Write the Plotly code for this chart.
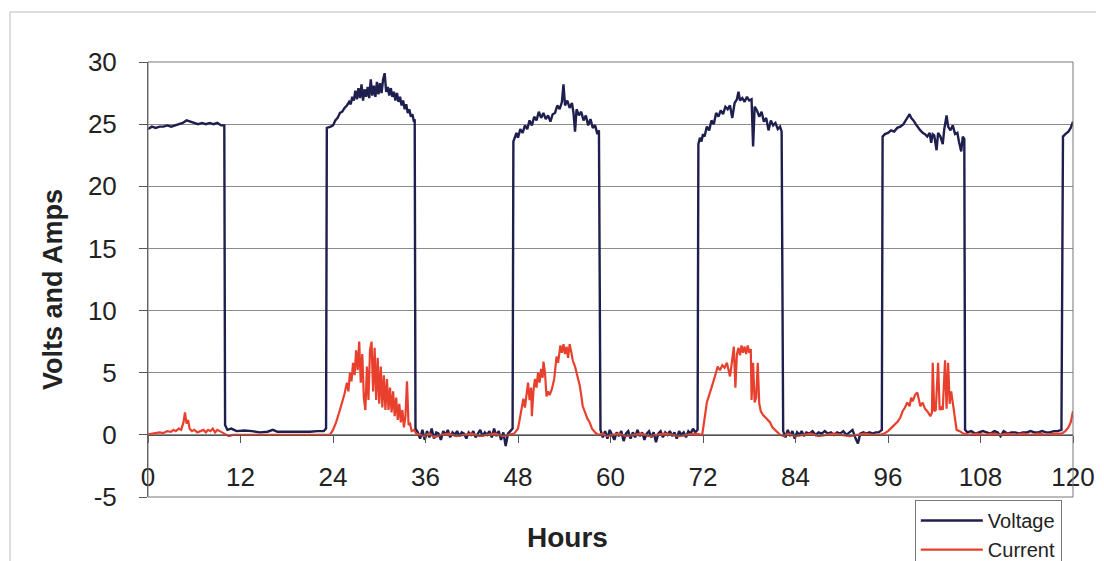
import plotly.graph_objects as go

# ---------------- data ----------------
volt_hours = [
    0, 0.5, 1, 1.5, 2, 2.5, 3, 3.5, 4, 4.5, 5, 5.5, 6, 6.5, 7, 7.5, 8, 8.5, 9, 9.5, 9.9,
    10.0, 10.3, 10.8, 11.5, 12.5, 13.5, 14.5, 15.5, 16.2, 16.8, 18, 19, 20, 21, 22, 22.8, 23.1,
    23.2, 23.7, 24.0, 24.3, 24.6, 24.9, 25.2, 25.5, 25.8, 26.1, 26.3, 26.5, 26.7, 26.9, 27.1, 27.3,
    27.5, 27.7, 27.9, 28.1, 28.3, 28.5, 28.7, 28.9, 29.1, 29.3, 29.5, 29.7, 29.9, 30.1, 30.3, 30.5,
    30.7, 30.9, 31.1, 31.3, 31.5, 31.7, 31.9, 32.1, 32.3, 32.5, 32.7, 32.9, 33.1, 33.3, 33.5, 33.7,
    33.9, 34.1, 34.3, 34.5, 34.6,
    34.7, 35.0, 35.3, 35.6, 35.9, 36.2, 36.5, 36.8, 37.1, 37.4, 37.7, 38.0, 38.3, 38.6, 38.9, 39.2,
    39.5, 39.8, 40.1, 40.4, 40.7, 41.0, 41.3, 41.6, 41.9, 42.2, 42.5, 42.8, 43.1, 43.4, 43.7, 44.0,
    44.3, 44.6, 44.9, 45.2, 45.5, 45.8, 46.1, 46.4, 46.7, 47.0, 47.3,
    47.4, 47.6, 47.8, 48.0, 48.3, 48.6, 48.9, 49.2, 49.5, 49.8, 50.1, 50.4, 50.7, 51.0, 51.3, 51.6,
    51.9, 52.2, 52.5, 52.8, 53.1, 53.4, 53.7, 53.9, 54.1, 54.4, 54.7, 55.0, 55.2, 55.4, 55.6, 55.9,
    56.2, 56.5, 56.8, 57.1, 57.4, 57.7, 58.0, 58.3, 58.5,
    58.7, 59.0, 59.3, 59.6, 59.9, 60.2, 60.5, 60.8, 61.1, 61.4, 61.7, 62.0, 62.3, 62.6, 62.9, 63.2,
    63.5, 63.8, 64.1, 64.4, 64.7, 65.0, 65.3, 65.6, 65.9, 66.2, 66.5, 66.8, 67.1, 67.4, 67.7, 68.0,
    68.3, 68.6, 68.9, 69.2, 69.5, 69.8, 70.1, 70.4, 70.7, 71.0, 71.3,
    71.4, 71.6, 71.8, 72.0, 72.2, 72.5, 72.8, 73.1, 73.4, 73.7, 74.0, 74.3, 74.6, 74.9, 75.2, 75.5,
    75.8, 76.1, 76.4, 76.6, 76.8, 77.1, 77.4, 77.7, 78.0, 78.3, 78.5, 78.7, 79.0, 79.3, 79.6, 79.9,
    80.2, 80.5, 80.8, 81.1, 81.4, 81.7, 82.0, 82.2,
    82.4, 82.7, 83.0, 83.3, 83.6, 83.9, 84.2, 84.5, 84.8, 85.1, 85.4, 85.8, 86.2, 86.6, 87.0, 87.4,
    87.8, 88.2, 88.6, 89.0, 89.4, 89.8, 90.2, 90.6, 91.0, 91.4, 91.8, 92.1, 92.4, 92.8, 93.2, 93.6,
    94.0, 94.4, 94.8, 95.2,
    95.3, 95.6, 96.0, 96.4, 96.8, 97.2, 97.6, 98.0, 98.3, 98.6, 98.8, 99.0, 99.3, 99.6, 99.9, 100.2,
    100.5, 100.8, 101.1, 101.4, 101.6, 101.8, 102.0, 102.3, 102.5, 102.8, 103.1, 103.3, 103.6, 103.8,
    104.1, 104.4, 104.7, 105.0, 105.2, 105.5, 105.7, 105.9,
    106.0, 106.3, 106.8, 107.3, 107.8, 108.3, 108.8, 109.3, 109.8, 110.2, 110.6, 111.0, 111.5, 112,
    112.5, 113, 113.5, 114, 114.5, 115, 115.5, 116, 116.5, 117, 117.5, 118, 118.5,
    118.7, 119.0, 119.4, 119.7, 120,
]
volt_values = [
    24.6, 24.8, 24.7, 24.8, 24.8, 24.9, 24.8, 24.9, 25.0, 25.1, 25.3, 25.2, 25.1, 25.0, 25.1, 25.0, 25.1, 25.0, 25.1, 24.9, 24.9,
    0.8, 0.4, 0.5, 0.3, 0.35, 0.3, 0.2, 0.25, 0.4, 0.25, 0.25, 0.2, 0.25, 0.25, 0.3, 0.3, 0.5,
    24.7, 24.8, 24.9, 25.3, 25.5, 25.9, 26.0, 26.3, 26.5, 26.8, 26.6, 27.2, 26.9, 27.7, 27.0, 27.9,
    27.1, 28.2, 26.9, 27.8, 27.2, 28.0, 27.1, 28.6, 27.3, 28.1, 27.2, 28.4, 27.4, 28.3, 27.5, 28.6,
    29.1, 27.6, 28.0, 27.3, 27.9, 27.2, 27.6, 26.9, 27.5, 26.8, 27.2, 26.5, 26.9, 26.2, 26.6, 25.9,
    26.2, 25.6, 25.8, 25.2, 25.4,
    0.5, 0.2, -0.3, 0.4, -0.4, 0.3, -0.2, 0.5, -0.3, 0.2, 0.1, -0.4, 0.3, 0.0, 0.4, -0.2,
    0.2, 0.0, 0.3, -0.1, 0.2, 0.1, -0.3, 0.2, 0.0, 0.3, -0.2, 0.1, 0.4, -0.1, 0.2, 0.0,
    0.3, -0.2, 0.5, -0.1, 0.3, -0.4, 0.2, -0.9, 0.1, 0.3, 0.5,
    23.6, 23.9, 24.3, 23.9, 24.6, 24.3, 24.9, 24.6, 25.3, 24.9, 25.6, 25.3, 26.0, 25.5, 25.9, 25.4,
    25.7, 25.2, 25.8, 25.9, 26.5, 26.2, 26.8, 28.2, 26.5, 26.9, 26.3, 26.7, 25.9, 24.4, 26.2, 25.7,
    26.0, 25.3, 25.7, 24.9, 25.4, 24.7, 24.9, 24.2, 24.5,
    0.4, -0.2, 0.3, -0.3, 0.4, 0.0, -0.4, 0.2, -0.1, 0.3, -0.5, 0.1, 0.3, -0.3, 0.2, -0.2,
    0.4, -0.1, 0.2, -0.4, 0.1, 0.3, -0.2, 0.2, -0.6, 0.1, 0.3, -0.2, 0.2, 0.0, 0.3, -0.1,
    0.2, -0.3, 0.3, 0.0, 0.2, -0.2, 0.3, 0.1, 0.5, 0.2, 0.4,
    23.4, 23.9, 23.6, 24.2, 24.0, 24.8, 24.5, 25.3, 25.0, 25.9, 25.6, 26.1, 25.8, 26.4, 26.2, 26.5,
    25.5, 26.7, 27.0, 27.6, 26.9, 27.1, 26.8, 27.2, 26.9, 27.0, 23.2, 26.4, 26.1, 25.6, 26.0, 25.2,
    25.5, 24.5, 25.3, 24.9, 25.1, 24.6, 24.8, 24.4,
    0.3, -0.2, 0.4, -0.1, 0.3, -0.3, 0.2, 0.0, 0.3, -0.1, 0.2, 0.1, 0.3, 0.0, 0.2, 0.1,
    0.3, 0.1, 0.2, 0.0, 0.2, 0.1, 0.3, 0.0, 0.2, 0.4, -0.3, -0.7, 0.1, 0.2, 0.1, 0.2,
    0.1, 0.2, 0.2, 0.4,
    24.0, 24.2, 24.3, 24.5, 24.4, 24.7, 24.8, 25.0, 25.3, 25.6, 25.8, 25.5, 25.3, 25.0, 24.7, 24.5,
    24.3, 24.2, 24.0, 24.3, 23.5, 24.2, 24.1, 22.9, 24.3, 24.0, 23.4, 24.6, 25.7, 24.8,
    24.5, 24.9, 24.2, 24.3, 23.6, 22.8, 24.0, 23.8,
    0.4, 0.2, 0.3, 0.1, 0.2, 0.3, 0.2, 0.1, 0.3, 0.2, -0.1, 0.3, 0.1, 0.2,
    0.2, 0.1, 0.2, 0.2, 0.3, 0.2, 0.2, 0.3, 0.2, 0.2, 0.3, 0.3, 0.4,
    24.0, 24.2, 24.4, 24.7, 25.2,
]

curr_hours = [
    0, 0.5, 1, 1.5, 2, 2.5, 3, 3.3, 3.6, 4.0, 4.3, 4.6, 4.8, 5.0, 5.2, 5.4, 5.7, 6.0, 6.4, 6.8,
    7.2, 7.5, 7.8, 8.1, 8.4, 8.7, 9.0, 9.3, 9.6, 10.0, 10.5, 11, 11.5, 12.5, 14, 15.5, 17, 18.5,
    20, 21.5, 23, 23.6,
    24.0, 24.4, 24.8, 25.2, 25.5, 25.8, 26.0, 26.2, 26.4, 26.6, 26.8, 27.0, 27.2, 27.4, 27.6, 27.8,
    28.0, 28.2, 28.4, 28.6, 28.8, 29.0, 29.2, 29.4, 29.6, 29.8, 30.0, 30.2, 30.4, 30.6, 30.8, 31.0,
    31.2, 31.4, 31.6, 31.8, 32.0, 32.2, 32.4, 32.6, 32.8, 33.0, 33.2, 33.4, 33.6, 33.8, 34.0, 34.2,
    34.5, 34.8, 35.2, 35.8, 36.5, 37.2, 38, 39, 40, 41, 42, 43, 44, 45, 46, 46.8, 47.5,
    48.0, 48.3, 48.5, 48.7, 48.9, 49.1, 49.3, 49.5, 49.7, 49.8, 50.0, 50.2, 50.4, 50.6, 50.8, 51.0,
    51.2, 51.3, 51.5, 51.7, 51.9, 52.1, 52.4, 52.7, 53.0, 53.2, 53.5, 53.7, 53.9, 54.1, 54.3, 54.5,
    54.7, 54.9, 55.1, 55.4, 55.7, 56.0, 56.2, 56.4, 56.7, 57.0, 57.3, 57.6, 58.0, 58.4, 59, 59.6,
    60.3, 61, 62, 63, 64, 65, 66, 67, 68, 69, 70, 71, 71.9,
    72.2, 72.5, 72.8, 73.2, 73.5, 73.9, 74.2, 74.5, 74.8, 75.1, 75.3, 75.5, 75.7, 76.0, 76.2, 76.4,
    76.6, 76.8, 77.0, 77.2, 77.4, 77.6, 77.8, 78.0, 78.2, 78.3, 78.5, 78.7, 78.9, 79.1, 79.3, 79.5,
    79.8, 80.1, 80.4, 80.7, 81.0, 81.3, 81.6, 82.0, 82.5, 83, 84, 85, 86, 87, 88, 89, 90, 91, 92,
    93, 94, 95, 95.5,
    96.0, 96.5, 97.0, 97.3, 97.6, 97.9, 98.2, 98.5, 98.8, 99.0, 99.2, 99.5, 99.8, 100.0, 100.2,
    100.5, 100.8, 101.1, 101.5, 101.7, 101.8, 102.0, 102.2, 102.5, 102.7, 102.9, 103.1, 103.4,
    103.6, 103.8, 104.0, 104.2, 104.5, 104.7, 104.9, 105.3, 105.8, 106.5, 107.5, 108.5, 109.5,
    110.5, 111.5, 112.5, 113.5, 114.5, 115.5, 116.5, 117.5, 118.5, 119.0, 119.4, 119.7, 120,
]
curr_values = [
    0.05, 0.1, 0.1, 0.2, 0.15, 0.3, 0.25, 0.4, 0.3, 0.5, 0.4, 1.0, 1.8, 0.9, 1.2, 0.5, 0.3, 0.4, 0.2, 0.3,
    0.4, 0.2, 0.4, 0.3, 0.5, 0.2, 0.4, 0.3, 0.2, 0.05, -0.1, 0.0, 0.0, 0.0, 0.0, -0.05, 0.0, 0.0,
    0.0, 0.0, 0.0, 0.0,
    0.4, 1.0, 1.8, 2.6, 3.3, 4.2, 3.5, 5.0, 4.3, 5.8, 4.8, 6.8, 5.2, 7.5, 4.2, 6.5,
    3.0, 2.0, 5.5, 2.8, 6.8, 7.5, 3.5, 7.0, 2.8, 6.2, 2.5, 5.5, 2.2, 4.8, 2.0, 4.5,
    2.0, 3.8, 1.8, 3.5, 1.5, 3.0, 1.2, 2.5, 1.0, 2.0, 0.6, 1.5, 4.3, 0.8, 0.9, 0.3,
    0.4, 0.1, 0.0, -0.1, 0.1, -0.2, 0.0, 0.1, -0.1, 0.0, 0.1, -0.1, 0.0, 0.1, -0.1, 0.0, 0.1,
    0.5, 1.5, 2.4, 2.9, 2.2, 3.5, 4.2, 2.8, 3.8, 1.5, 3.5, 4.5, 3.8, 5.0, 4.2, 5.3,
    4.6, 5.9, 5.0, 3.1, 3.5, 3.2, 3.7, 4.5, 6.3, 5.8, 7.2, 6.6, 7.3, 6.5, 7.1, 6.2,
    7.3, 6.7, 6.0, 5.5, 4.8, 4.0, 3.2, 2.3, 1.8, 1.3, 1.0, 0.5, 0.2, 0.0, 0.1, -0.1,
    0.0, 0.1, -0.1, 0.0, 0.1, -0.1, 0.0, 0.1, 0.0, -0.1, 0.0, 0.1, 0.0,
    1.2, 2.6, 3.2, 3.9, 4.6, 5.5, 5.2, 5.6, 5.4, 5.8, 5.3, 4.7, 5.6, 7.1, 3.8, 6.5,
    7.0, 6.4, 7.2, 6.6, 7.1, 6.5, 7.2, 6.6, 6.9, 2.8, 5.8, 2.6, 3.0, 5.8, 2.5, 1.9,
    1.6, 1.4, 1.2, 1.0, 0.6, 0.4, 0.2, 0.0, -0.1, 0.1, -0.1, 0.0, 0.1, -0.1, 0.0, 0.1, 0.0, -0.1, 0.0,
    0.1, 0.0, 0.0, 0.1,
    0.3, 0.6, 0.9, 1.1, 1.4, 1.9, 2.2, 2.6, 2.3, 3.0, 2.7, 3.2, 3.4, 2.8, 2.3,
    2.6, 2.1, 1.9, 1.5, 1.8, 5.8, 1.9, 2.0, 5.8, 2.0, 2.2, 2.0, 6.0,
    2.1, 5.8, 2.5, 3.5, 2.0, 1.2, 0.4, 0.3, 0.1, 0.0, 0.1, 0.0, 0.1,
    0.0, 0.1, 0.0, 0.1, 0.0, 0.1, 0.0, 0.1, 0.1, 0.3, 0.6, 1.0, 1.9,
]

hour_ticks = [0, 12, 24, 36, 48, 60, 72, 84, 96, 108, 120]
y_ticks = [-5, 0, 5, 10, 15, 20, 25, 30]
series_names = ["Voltage", "Current"]
x_title = "Hours"
y_title = "Volts and Amps"

# ---------------- figure ----------------
FONT = "Liberation Sans, Arial, sans-serif"
fig = go.Figure()
fig.add_trace(go.Scatter(x=volt_hours, y=volt_values, mode="lines", name=series_names[0],
                         line=dict(color="#1f1f4f", width=2.4)))
fig.add_trace(go.Scatter(x=curr_hours, y=curr_values, mode="lines", name=series_names[1],
                         line=dict(color="#e8402c", width=2.2)))

y0_pos = (0 - (-5)) / (30 - (-5))

fig.update_layout(
    width=1104, height=561,
    margin=dict(l=140, r=39, t=54, b=72, autoexpand=False),
    paper_bgcolor="white", plot_bgcolor="white",
    font=dict(family=FONT, color="#222222"),
    showlegend=True,
    legend=dict(x=0.829, y=-0.007, xanchor="left", yanchor="top",
                bordercolor="#777777", borderwidth=1, bgcolor="white",
                font=dict(size=20, color="#222222"), tracegroupgap=0,
                itemwidth=62),
    xaxis=dict(range=[0, 120], tickmode="array", tickvals=hour_ticks,
               ticktext=[str(t) for t in hour_ticks],
               showgrid=False, zeroline=False,
               showline=True, linecolor="#555555", linewidth=1,
               anchor="free", position=y0_pos,
               ticks="outside", ticklen=7, tickcolor="#555555",
               ticklabelstandoff=12,
               tickfont=dict(size=26, color="#222222")),
    yaxis=dict(range=[-5, 30], tickmode="array", tickvals=y_ticks,
               ticktext=[str(t) for t in y_ticks],
               showgrid=True, gridcolor="#8c8c8c", gridwidth=1,
               zeroline=False, showline=True, linecolor="#555555", linewidth=1,
               ticks="outside", ticklen=8, tickcolor="#555555",
               ticklabelstandoff=17,
               tickfont=dict(size=26, color="#222222")),
    shapes=[
        dict(type="rect", xref="x domain", yref="y domain", x0=0, x1=1, y0=0, y1=1,
             line=dict(color="#777777", width=1), layer="above"),
        dict(type="rect", xref="paper", yref="paper", x0=-0.1492, x1=1.06, y0=-0.2, y1=1.115,
             line=dict(color="#bbbbbb", width=1), layer="below"),
    ],
    annotations=[
        dict(text=x_title, xref="paper", yref="paper", x=0.4535, y=-0.092,
             xanchor="center", yanchor="middle", showarrow=False,
             font=dict(size=28, color="#222222", family=FONT, weight="bold")),
        dict(text=y_title, xref="paper", yref="paper", x=-0.1027, y=0.476,
             xanchor="center", yanchor="middle", showarrow=False, textangle=-90,
             font=dict(size=27, color="#222222", family=FONT, weight="bold")),
    ],
)

fig.write_html("out.html")
